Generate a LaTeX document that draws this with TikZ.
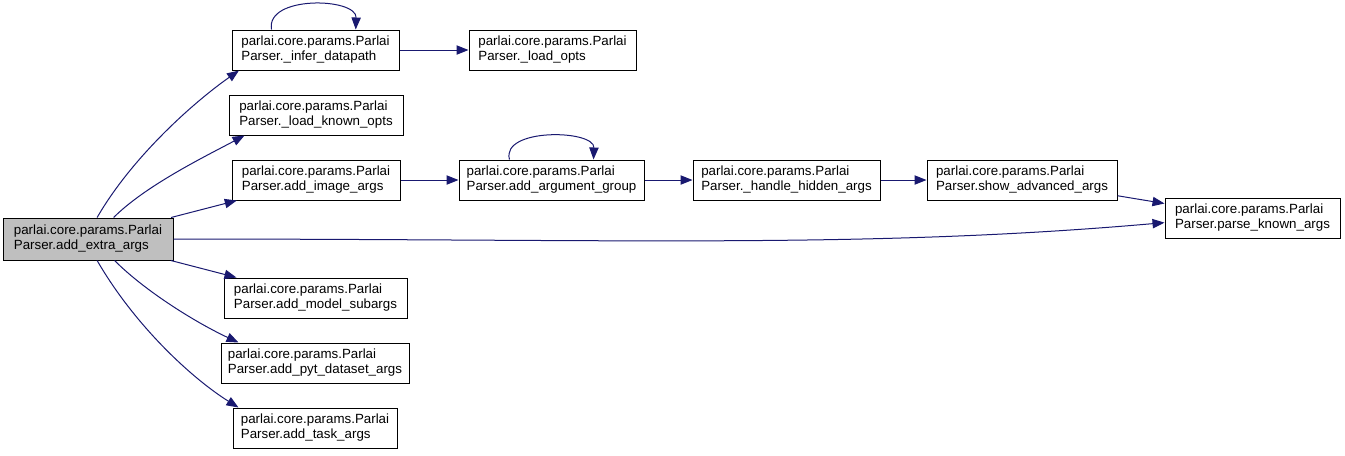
\documentclass[tikz,border=0pt]{standalone}
\usepackage{fontspec}
\setmainfont{Liberation Sans}
\usetikzlibrary{arrows.meta}
\definecolor{edgeblue}{HTML}{191970}
\definecolor{boxgray}{HTML}{BFBFBF}
\begin{document}
\begin{tikzpicture}[x=0.75pt,y=0.75pt,
  fn/.style={draw=black, line width=0.75pt, fill=white, align=left,
    minimum height=30pt, inner xsep=2pt, inner ysep=1pt,
    font=\fontsize{10}{11.25}\selectfont},
  call/.style={draw=edgeblue, line width=0.75pt,
    -{Triangle[length=9pt,width=7pt]}}]
\useasboundingbox (0,0) rectangle (1345,-455);
\node[fn, fill=boxgray, minimum width=127.5pt, minimum height=31.5pt] (extra) at (88,-239) {parlai.core.params.Parlai\\Parser.add\_extra\_args};
\node[fn, minimum width=125.25pt] (infer) at (315.5,-50) {parlai.core.params.Parlai\\Parser.\_infer\_datapath};
\node[fn, minimum width=125.25pt] (loadopts) at (552.5,-50) {parlai.core.params.Parlai\\Parser.\_load\_opts};
\node[fn, minimum width=130.5pt] (loadknown) at (316,-115) {parlai.core.params.Parlai\\Parser.\_load\_known\_opts};
\node[fn, minimum width=126pt] (image) at (316,-180) {parlai.core.params.Parlai\\Parser.add\_image\_args};
\node[fn, minimum width=138.75pt] (group) at (551.5,-180) {parlai.core.params.Parlai\\Parser.add\_argument\_group};
\node[fn, minimum width=140.25pt] (hidden) at (786.5,-180) {parlai.core.params.Parlai\\Parser.\_handle\_hidden\_args};
\node[fn, minimum width=142.5pt] (show) at (1022,-180) {parlai.core.params.Parlai\\Parser.show\_advanced\_args};
\node[fn, minimum width=131.25pt] (parse) at (1252.5,-218) {parlai.core.params.Parlai\\Parser.parse\_known\_args};
\node[fn, minimum width=137.25pt] (model) at (315.5,-298) {parlai.core.params.Parlai\\Parser.add\_model\_subargs};
\node[fn, minimum width=141pt] (pyt) at (315,-363) {parlai.core.params.Parlai\\Parser.add\_pyt\_dataset\_args};
\node[fn, minimum width=123pt] (task) at (315,-428) {parlai.core.params.Parlai\\Parser.add\_task\_args};

\draw[call] (extra.67) .. controls +(60:70) and +(215:55) .. (infer.195);
\draw[call] (infer.155) .. controls +(100:35) and +(88:32) .. (infer.27);
\draw[call] (infer) -- (loadopts);
\draw[call] (extra.40) .. controls +(45:45) and +(208:45) .. (loadknown.196);
\draw[call] (extra) -- (image);
\draw[call] (image) -- (group);
\draw[call] (group.154) .. controls +(105:33) and +(88:30) .. (group.26);
\draw[call] (group) -- (hidden);
\draw[call] (hidden) -- (show);
\draw[call] (show) -- (parse);
\draw[call] (extra.east) .. controls +(0:450) and +(185:300) .. (parse.183);
\draw[call] (extra) -- (model);
\draw[call] (extra.-39) .. controls +(-45:45) and +(155:45) .. (pyt.165);
\draw[call] (extra.-67) .. controls +(-60:75) and +(148:55) .. (task.165);
\end{tikzpicture}
\end{document}
